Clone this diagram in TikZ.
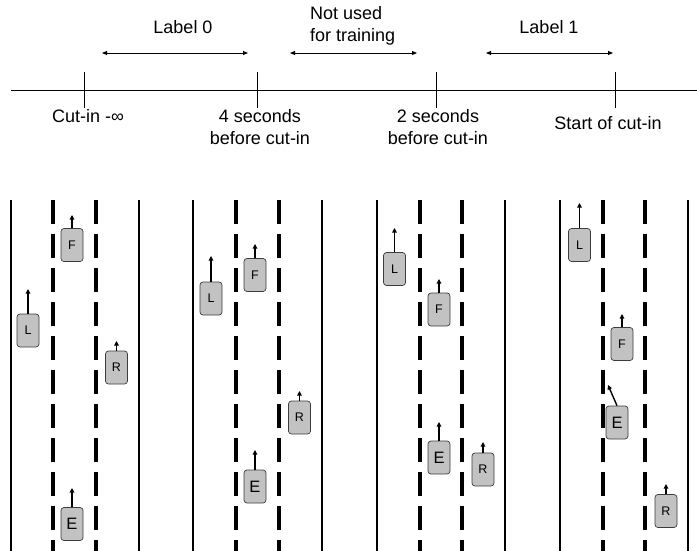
\documentclass[tikz,border=0pt]{standalone}
\usepackage{fontspec}
\setmainfont{Liberation Sans}
\usetikzlibrary{arrows.meta}
\definecolor{carfill}{RGB}{194,194,194}
\definecolor{caredge}{RGB}{60,60,60}
\begin{document}
\begin{tikzpicture}[x=1pt,y=-1pt,
  lbl/.style={font=\fontsize{18}{22}\selectfont, inner sep=0pt, align=center, anchor=base},
  axis/.style={line width=0.9pt},
  span/.style={line width=0.9pt,{Triangle[length=5pt,width=4pt]}-{Triangle[length=5pt,width=4pt]}},
  solidline/.style={line width=2pt},
  dashline/.style={line width=3.6pt, dash pattern=on 24pt off 10pt},
  car/.style={draw=caredge, fill=carfill, rounded corners=3pt, minimum width=22pt,
    minimum height=33pt, inner sep=0pt, line width=0.7pt, font=\fontsize{12.5}{14}\selectfont},
  ego/.style={car, font=\fontsize{16.5}{18}\selectfont},
  move/.style={line width=1.4pt, -{Triangle[length=4.5pt,width=4.5pt]}}
]
\useasboundingbox (0,0) rectangle (697,551);

% ---- timeline ----
\coordinate (axL) at (11,90);
\coordinate (axR) at (697,90);
\draw[axis] (axL) -- (axR);
\foreach \n/\x in {t0/84, t1/257, t2/436, t3/615} {
  \coordinate (\n top) at (\x,72);
  \coordinate (\n bot) at (\x,108);
  \draw[axis] (\n top) -- (\n bot);
}
\coordinate (a0s) at (102,53); \coordinate (a0e) at (248,53);
\coordinate (a1s) at (290,53); \coordinate (a1e) at (417,53);
\coordinate (a2s) at (486,53); \coordinate (a2e) at (613,53);
\draw[span] (a0s) -- (a0e);
\draw[span] (a1s) -- (a1e);
\draw[span] (a2s) -- (a2e);

% multi-line labels are placed by the baseline of their last line
\node[lbl] (lab0) at (183,34) {Label 0};
\node[lbl, anchor=base west, align=left] (nused) at (310,41.5) {Not used\\for training};
\node[lbl] (lab1) at (549,34) {Label 1};
\node[lbl] (c0) at (88,122) {Cut-in -∞};
\node[lbl] (c1) at (260,144) {4 seconds\\before cut-in};
\node[lbl] (c2) at (438,144) {2 seconds\\before cut-in};
\node[lbl] (c3) at (608,130) {Start of cut-in};

% ---- four road snapshots ----
\foreach \a/\b/\c/\d in {11/53/96/139, 193/236/279/322, 377/420/462/505, 560/603/645/688} {
  \draw[solidline] (\a,200) -- (\a,551);
  \draw[dashline] (\b,200) -- (\b,551);
  \draw[dashline] (\c,200) -- (\c,551);
  \draw[solidline] (\d,200) -- (\d,551);
}

% vehicles: name / x / y / label / style / heading tip
\foreach \n/\x/\y/\t/\s/\tx/\ty in {
  F1/72/245/F/car/72/215,     L1/28/330.5/L/car/28/289,
  R1/116.5/367.5/R/car/116.5/341, E1/72/524/E/ego/72/488,
  F2/255/275/F/car/255/244,   L2/211/298.5/L/car/211/256,
  R2/299.5/417.5/R/car/299.5/391, E2/255/486.5/E/ego/255/450,
  L3/394.5/269/L/car/394.5/228, F3/439/309.5/F/car/439/279,
  E3/439/457.5/E/ego/439/422, R3/483/469.5/R/car/483/442,
  L4/579.5/245/L/car/579.5/203, F4/622/344/F/car/622/314,
  R4/666/511/R/car/666/484} {
  \node[\s] (\n) at (\x,\y) {\t};
  \coordinate (\n tip) at (\tx,\ty);
  \draw[move] (\n.north) -- (\n tip);
}
\node[ego] (E4) at (617,422.5) {E};
\coordinate (E4tip) at (608,385);
\draw[move] (E4.north) -- (E4tip);

\end{tikzpicture}
\end{document}
